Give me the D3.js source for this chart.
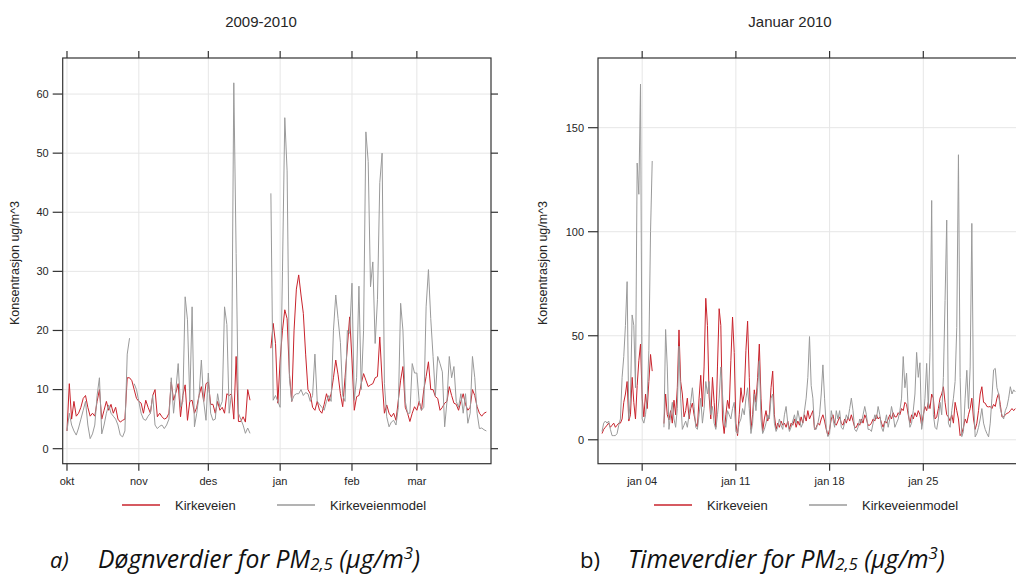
<!DOCTYPE html>
<html>
<head>
<meta charset="utf-8">
<script src="https://cdn.jsdelivr.net/npm/d3@7"></script>
<style>
html, body { margin: 0; padding: 0; background: #fff; }
svg { display: block; font-family: "Liberation Sans", Arial, sans-serif; }
</style>
</head>
<body>
<svg id="chart" width="1016" height="574"></svg>
<script>
// --- a) daily values, 1 Oct 2009 .. 31 Mar 2010 (null = missing) ---
const dailyStart = Date.UTC(2009, 9, 1);
const monthTicks = [Date.UTC(2009, 9, 1), Date.UTC(2009, 10, 1), Date.UTC(2009, 11, 1),
	Date.UTC(2010, 0, 1), Date.UTC(2010, 1, 1), Date.UTC(2010, 2, 1)];
const monthLabels = ["okt", "nov", "des", "jan", "feb", "mar"];
const dailyYTicks = [0, 10, 20, 30, 40, 50, 60];

const kirkeveienDaily = [
	// okt
	3, 11, 5, 8, 5.5, 6, 7, 8.5, 9, 7, 5.5, 6, 5.5, 8, 10, 5, 6.5, 8, 6.5, 7.5, 6, 7, 5, 4.5, 4.8, 5, 12, 12, 11.5, 10, 8.5,
	// nov
	8, 7.7, 6, 8.2, 7, 6, 9, 10, 5.4, 6, 5.4, 5, 5.2, 6, 11.3, 8.2, 9.5, 11, 5.4, 9, 10.8, 4.8, 8, 8.2, 6, 7, 9, 10.5, 8, 11,
	// des
	11.3, 7.5, 7.5, 6, 8, 6.5, 7, 6, 9.3, 9, 9.3, 5, 15.6, 4.6, 4.6, 5.4, 4.5, 10, 8.2,
	null, null, null, null, null, null, null, null, 17, 21.2, 17.8, 7.7,
	// jan
	15, 20, 23.5, 22, 12.7, 8, 20, 27, 29.4, 26, 22.9, 16, 10, 9.3, 7, 6.5, 8, 6.5, 6, 7.5, 9.3, 8, 9.3, 12, 15, 12.5, 9.3, 7.1, 12, 17.2, 22.3,
	// feb
	15, 6.5, 8.8, 9, 11, 12.7, 11.6, 10.5, 10.8, 11, 12, 12.2, 18.9, 11.6, 6, 7.4, 6, 5.4, 6, 4.8, 8.2, 11.6, 13.9, 7, 6, 4.6, 6, 7.1,
	// mar
	6.5, 8, 6.5, 10, 12.2, 14.7, 10, 10, 8.8, 8.5, 6.5, 7, 7.7, 8, 10.5, 9, 7.7, 7.5, 6.5, 8, 9.3, 7.5, 6.5, 7, 10, 9, 7.1, 6, 5.5, 6, 6.2
];

const modelDaily = [
	// okt
	3, 6, 4, 3, 2.3, 3.5, 5, 6.5, 8, 4, 1.7, 2.5, 4, 9, 12, 2.5, 4, 6, 7.4, 6, 5.5, 5, 4, 2.3, 2, 3, 16, 18.7, null, 11, 10,
	// nov
	8, 6, 5, 4.8, 5.5, 6, 9, 4, 3.4, 3.8, 4, 3.4, 4, 5, 12, 6, 10, 14.4, 7, 8, 25.7, 21.8, 8, 24, 3.7, 6, 9, 15, 8, 4.8,
	// des
	12.8, 6, 4.8, 5, 9.3, 7, 8, 24, 21, 6, 9.3, 61.9, 33, 6, 5, 4, 2.6, 3.5, 2.6,
	null, null, null, null, null, null, null, null, 43.2, 8.2, 9, 8,
	// jan
	7, 30, 56, 47, 12, 8, 9, 9.3, 9.3, 10, 9, 9.5, 9.3, 8, 9, 16, 8, 7.5, 7, 6.5, 8, 9, 8, 20, 26, 22, 18, 9, 8, 20, 19.5,
	// feb
	28, 8.2, 12, 27.5, 10, 20, 53.6, 48.6, 27.4, 31.6, 17.8, 25.2, 45, 50, 11, 5.4, 3.7, 4.5, 4.8, 4, 7, 24.6, 20, 8, 6, 6, 14.4, 12.8,
	// mar
	12.8, 8, 6.5, 7, 24, 30.3, 22, 15.6, 9, 15.6, 14.4, 13, 3.7, 8, 15.6, 12, 13.9, 8, 7, 9.3, 6, 9.3, 4.3, 6, 15.6, 12, 6, 3.4, 3.5, 3.2, 3
];

// --- b) values every 3 hours, January 2010 (null = missing) ---
const hourlyStart = Date.UTC(2010, 0, 1);
const hourlyStepHours = 3;
const weekTicks = [Date.UTC(2010, 0, 4), Date.UTC(2010, 0, 11), Date.UTC(2010, 0, 18), Date.UTC(2010, 0, 25)];
const weekLabels = ["jan 04", "jan 11", "jan 18", "jan 25"];
const hourlyYTicks = [0, 50, 100, 150];

const kirkeveienHourly = [
	3, 5, 6, 7, 8, 6, 7, 8,
	6, 7, 8, 8, 10, 18, 22, 28,
	9, 12, 30, 18, 10, 26, 38, 46,
	20, 11, 22, 15, 28, 41, 33, null,
	null, null, null, null, null, 7.8, 22, 12,
	9.5, 14, 8, 19, 12, 25, 52.8, 28,
	22, 11, 14, 20, 10, 15, 17.6, 12,
	8, 6, 20, 31, 16, 35, 68, 55,
	21, 10, 30, 18, 6, 35, 63, 55,
	10, 3, 12, 19, 15, 38, 59, 42,
	8, 2, 12, 25, 18, 22, 43, 57,
	30, 5, 12, 24, 18, 30, 46, 20,
	4, 10, 14, 9, 12, 25, 33, 12,
	5, 8, 6, 9, 7, 8, 6, 9,
	5, 8, 7, 10, 6, 9, 7, 11,
	8, 12, 9, 14, 10, 12, 14, 5,
	6, 8, 7, 10, 12, 9, 5, 2,
	5, 10, 12, 8, 7, 9, 11, 8,
	7, 10, 8, 11, 9, 12, 9, 6,
	6, 8, 7, 10, 8, 12, 10, 7,
	7, 8, 10, 9, 12, 10, 11, 8,
	6, 9, 8, 10, 12, 10, 13, 11,
	11, 13, 12, 15, 14, 18, 17, 12,
	8, 12, 10, 13, 11, 14, 12, 7,
	12, 16, 14, 18, 15, 22, 20, 10,
	11, 15, 20, 22, 25.5, 18, 12, 11,
	9, 12, 8, 18, 14, 10, 2, 3,
	6, 10, 8, 12, 15, 20, 10, 5,
	8, 14, 22, 25.5, 18, 17.6, 16, 15.8,
	16, 15, 17, 16, 20, 22.3, 17, 11,
	11, 12, 12.7, 13, 14, 15, 14, 15
];

const modelHourly = [
	4, 8, 9, 8, 9, 5, 2, 2,
	2, 3, 7, 10, 30, 40, 55, 76,
	10, 20, 60, 55, 25, 133, 118, 171,
	10, 8, 12, 20, 43, 100, 134, null,
	null, null, null, null, null, 6, 53, 35,
	5, 12, 18, 10, 6, 15, 45, 20,
	5, 7, 9, 6, 12, 18, 25, 16,
	6, 5, 12, 20, 8, 15, 28, 22,
	28, 12, 16, 8, 5, 12, 20, 35,
	22, 8, 6, 14, 12, 10, 15, 18,
	4, 3, 8, 10, 15, 12, 20, 25,
	15, 3, 8, 22, 14, 25, 38, 10,
	3, 5, 8, 12, 10, 20, 22, 8,
	4, 6, 10, 7, 5, 12, 16, 8,
	4, 6, 9, 12, 8, 14, 10, 6,
	8, 14, 20, 30, 49.6, 26, 20, 5,
	5, 8, 12, 22, 36, 20, 6, 1.5,
	3, 14, 10, 6, 14, 10, 14, 6,
	5, 8, 12, 10, 15, 20, 14, 5,
	4, 6, 10, 8, 12, 16, 12, 5,
	5, 4, 8, 12, 10, 16, 12, 6,
	4, 8, 12, 6, 10, 16, 12, 6,
	8, 10, 14, 20, 40, 25, 32, 14,
	6, 8, 14, 22, 42, 30, 37, 5,
	10, 20, 36.7, 15, 42, 115, 12, 6,
	5, 10, 18, 12, 30, 67, 105.6, 8,
	6, 14, 20, 28, 54, 137, 30, 1.5,
	4, 20, 33.4, 15, 35, 104, 20, 1.4,
	3, 6, 10, 15, 8, 5, 3, 1.4,
	8, 20, 33.6, 34.3, 25, 22, 15, 12,
	10, 14, 16, 20, 25.5, 22, 24, 23
];

const seriesNames = ["Kirkeveien", "Kirkeveienmodel"];
const seriesColors = ["#c8232c", "#9a9a9a"];

const DAY = 864e5, HOUR = 36e5;
const svg = d3.select("#chart");
const textColor = "#262626";

function drawPanel(p) {
	const g = svg.append("g");
	const x = d3.scaleUtc().domain(p.xDomain).range([p.x0, p.x1]);
	const y = d3.scaleLinear().domain(p.yDomain).range([p.y1, p.y0]);

	const clipId = "clip" + p.id;
	svg.append("clipPath").attr("id", clipId)
		.append("rect").attr("x", p.x0).attr("y", p.y0)
		.attr("width", p.x1 - p.x0).attr("height", p.y1 - p.y0);

	// grid
	g.append("g").selectAll("line").data(p.xTicks).join("line")
		.attr("x1", d => x(d)).attr("x2", d => x(d))
		.attr("y1", p.y0).attr("y2", p.y1)
		.attr("stroke", "#e6e6e6").attr("stroke-width", 1);
	g.append("g").selectAll("line").data(p.yTicks).join("line")
		.attr("x1", p.x0).attr("x2", p.x1)
		.attr("y1", d => y(d)).attr("y2", d => y(d))
		.attr("stroke", "#e6e6e6").attr("stroke-width", 1);

	// series
	const line = d3.line()
		.defined(d => d.v != null)
		.x(d => x(d.t)).y(d => y(d.v));
	const lines = g.append("g").attr("clip-path", `url(#${clipId})`);
	p.series.forEach((vals, k) => {
		const pts = vals.map((v, i) => ({ t: p.start + i * p.step, v: v }));
		lines.append("path").datum(pts)
			.attr("d", line)
			.attr("fill", "none")
			.attr("stroke", seriesColors[k])
			.attr("stroke-width", 1)
			.attr("stroke-linejoin", "round");
	});

	// box
	g.append("rect")
		.attr("x", p.x0).attr("y", p.y0)
		.attr("width", p.x1 - p.x0).attr("height", p.y1 - p.y0)
		.attr("fill", "none").attr("stroke", "#333").attr("stroke-width", 1.2);

	// x ticks (top and bottom) and labels
	const xt = g.append("g").attr("stroke", "#333").attr("stroke-width", 1.2);
	p.xTicks.forEach(t => {
		xt.append("line").attr("x1", x(t)).attr("x2", x(t)).attr("y1", p.y1).attr("y2", p.y1 + 7);
		xt.append("line").attr("x1", x(t)).attr("x2", x(t)).attr("y1", p.y0).attr("y2", p.y0 - 7);
	});
	g.append("g").selectAll("text").data(p.xTicks).join("text")
		.attr("x", d => x(d)).attr("y", p.y1 + 21)
		.attr("text-anchor", "middle")
		.attr("font-size", 11).attr("fill", textColor)
		.text((d, i) => p.xLabels[i]);

	// y ticks (left and right) and labels
	const yt = g.append("g").attr("stroke", "#333").attr("stroke-width", 1.2);
	p.yTicks.forEach(v => {
		yt.append("line").attr("x1", p.x0 - 10).attr("x2", p.x0).attr("y1", y(v)).attr("y2", y(v));
		yt.append("line").attr("x1", p.x1).attr("x2", p.x1 + 7).attr("y1", y(v)).attr("y2", y(v));
	});
	g.append("g").selectAll("text").data(p.yTicks).join("text")
		.attr("x", p.x0 - 14).attr("y", d => y(d))
		.attr("dy", "0.35em")
		.attr("text-anchor", "end")
		.attr("font-size", 11).attr("fill", textColor)
		.text(d => d);

	// title
	g.append("text")
		.attr("x", p.titleX).attr("y", 27)
		.attr("text-anchor", "middle")
		.attr("font-size", 15).attr("fill", textColor)
		.text(p.title);

	// y axis label
	g.append("text")
		.attr("transform", `translate(${p.ylabelX},263) rotate(-90)`)
		.attr("text-anchor", "middle")
		.attr("dy", "0.35em")
		.attr("font-size", 12.5).attr("fill", textColor)
		.text("Konsentrasjon ug/m^3");

	// legend
	const lg = g.append("g");
	p.legendX.forEach((lx, k) => {
		lg.append("line")
			.attr("x1", lx).attr("x2", lx + 38)
			.attr("y1", 505).attr("y2", 505)
			.attr("stroke", seriesColors[k]).attr("stroke-width", 1.4);
		lg.append("text")
			.attr("x", lx + 53).attr("y", 505)
			.attr("dy", "0.36em")
			.attr("font-size", 13).attr("fill", textColor)
			.text(seriesNames[k]);
	});

	// caption below the panel
	const cap = svg.append("g")
		.attr("font-family", "'Open Sans', 'Noto Sans', sans-serif")
		.attr("fill", "#111");
	cap.append("text")
		.attr("x", p.captionX).attr("y", 568)
		.attr("font-size", 22)
		.attr("font-style", p.letterItalic ? "italic" : "normal")
		.text(p.letter);
	const ct = cap.append("text")
		.attr("x", p.captionTextX).attr("y", 568)
		.attr("font-size", 22)
		.attr("font-style", "italic");
	ct.append("tspan").text(p.captionWord + " for PM");
	ct.append("tspan").attr("font-size", "0.68em").attr("dy", "0.12em").text("2,5");
	ct.append("tspan").attr("dy", "-0.08em").text("\u00a0(µg/m");
	ct.append("tspan").attr("font-size", "0.68em").attr("dy", "-0.55em").text("3");
	ct.append("tspan").attr("dy", "0.37em").text(")");
	const len = ct.node().getComputedTextLength();
	ct.attr("font-size", 22 * p.captionWidth / len);
}

drawPanel({
	id: "a",
	x0: 62.7, x1: 491, y0: 58, y1: 463.7,
	xDomain: [dailyStart - 1.85 * DAY, Date.UTC(2010, 2, 1) + 32.0 * DAY],
	yDomain: [-2.54, 66.1],
	xTicks: monthTicks, xLabels: monthLabels, yTicks: dailyYTicks,
	start: dailyStart, step: DAY,
	series: [kirkeveienDaily, modelDaily],
	title: "2009-2010", titleX: 261, ylabelX: 15,
	legendX: [122, 277],
	letter: "a)", letterItalic: true, captionX: 50, captionTextX: 98,
	captionWord: "Døgnverdier", captionWidth: 322
});

drawPanel({
	id: "b",
	x0: 598, x1: 1030, y0: 58, y1: 463.7,
	xDomain: [Date.UTC(2010, 0, 4) - 3.3 * DAY, Date.UTC(2010, 0, 25) + 7.97 * DAY],
	yDomain: [-11.5, 183.5],
	xTicks: weekTicks, xLabels: weekLabels, yTicks: hourlyYTicks,
	start: hourlyStart, step: hourlyStepHours * HOUR,
	series: [kirkeveienHourly, modelHourly],
	title: "Januar 2010", titleX: 790, ylabelX: 543,
	legendX: [654, 809],
	letter: "b)", letterItalic: false, captionX: 580, captionTextX: 628,
	captionWord: "Timeverdier", captionWidth: 317
});
</script>
</body>
</html>
